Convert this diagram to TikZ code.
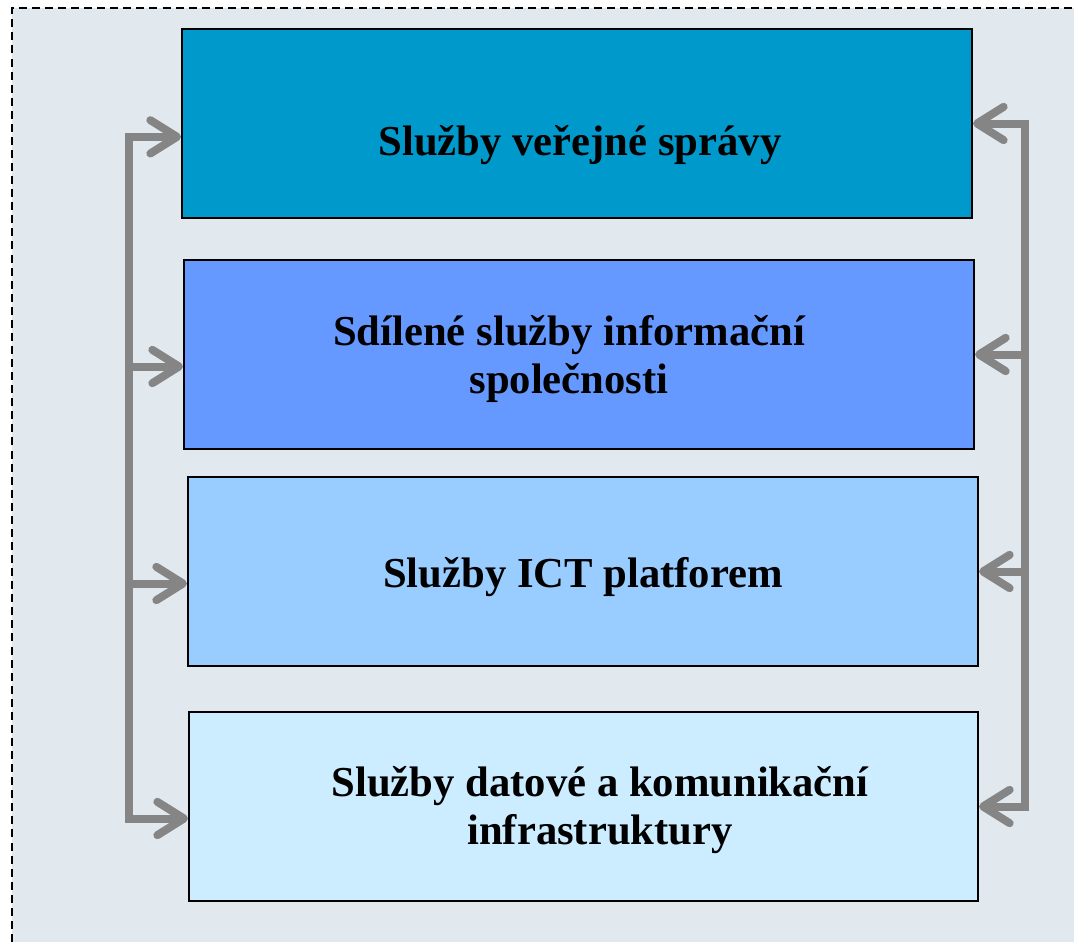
\documentclass[tikz,border=0pt]{standalone}
\usepackage{fontspec}
\setmainfont{Liberation Serif}
\usetikzlibrary{arrows.meta}
\definecolor{bgc}{HTML}{E1E9EF}
\definecolor{cone}{HTML}{0099CC}
\definecolor{ctwo}{HTML}{6699FF}
\definecolor{cthree}{HTML}{99CCFF}
\definecolor{cfour}{HTML}{CCECFF}
\definecolor{agray}{HTML}{858585}
\begin{document}
\begin{tikzpicture}[x=0.75pt,y=-0.75pt,
  box/.style={draw=black, line width=1.5pt, minimum width=592.5pt, minimum height=141.75pt, inner sep=0pt},
  lbl/.style={font=\fontsize{32}{36}\selectfont\bfseries, align=center, inner sep=0pt},
  tip/.tip={Straight Barb[length=20pt, width=25pt, round]},
  conn/.style={draw=agray, line width=6pt, -tip},
  conntwo/.style={draw=agray, line width=6pt, tip-tip},
  frame/.style={draw=black, line width=1.2pt, dash pattern=on 6pt off 3.8pt}]
\useasboundingbox (0,0) rectangle (1074,942);
\fill[bgc] (12,8) rectangle (1074,942);
\draw[frame] (12,942) -- (12,8) -- (1074,8);
\node[box, fill=cone] (b1) at (577,123.5) {};
\node[box, fill=ctwo] (b2) at (579,354.5) {};
\node[box, fill=cthree] (b3) at (583,571.5) {};
\node[box, fill=cfour, minimum width=591.75pt] (b4) at (583.5,806.5) {};
\node[lbl] (t1) at (580,145) {Služby veřejné správy};
\node[lbl] (t2) at (569,359) {Sdílené služby informační\\společnosti};
\node[lbl] (t3) at (583,577) {Služby ICT platforem};
\node[lbl] (t4) at (600,810) {Služby datové a komunikační\\infrastruktury};
\coordinate (lx) at (129,0);
\coordinate (rx) at (1025,0);
\coordinate (l1) at ([yshift=-10pt]b1.west);
\coordinate (l2) at ([yshift=-9pt]b2.west);
\coordinate (l3) at ([yshift=-9pt]b3.west);
\coordinate (l4) at ([yshift=-9pt]b4.west);
\draw[conntwo] (l1) -| (lx |- l4) -- (l4);
\draw[conn] (lx |- l2) -- (l2);
\draw[conn] (lx |- l3) -- (l3);
\draw[conntwo] (b1.east) -| (rx |- b4.east) -- (b4.east);
\draw[conn] (rx |- b2.east) -- (b2.east);
\draw[conn] (rx |- b3.east) -- (b3.east);
\end{tikzpicture}
\end{document}
